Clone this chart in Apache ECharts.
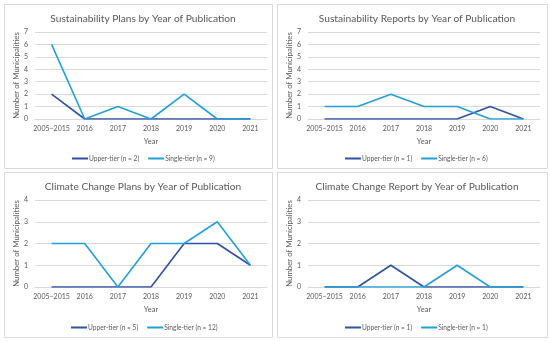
<!DOCTYPE html>
<html><head><meta charset="utf-8">
<script src="https://cdn.jsdelivr.net/npm/echarts@6/dist/echarts.min.js"></script>
<style>html,body{margin:0;padding:0;background:#fff}#c{width:550px;height:341px}</style>
</head><body><div id="c"></div>
<script>
const categories = ['2005–2015','2016','2017','2018','2019','2020','2021'];
const titles = ['Sustainability Plans by Year of Publication','Sustainability Reports by Year of Publication','Climate Change Plans by Year of Publication','Climate Change Report by Year of Publication'];
const upperNames = ['Upper-tier (n = 2)','Upper-tier (n = 1)','Upper-tier (n = 5)','Upper-tier (n = 1)'];
const singleNames = ['Single-tier (n = 9)','Single-tier (n = 6)','Single-tier (n = 12)','Single-tier (n = 1)'];
const p1Upper = [2,0,0,0,0,0,0];
const p1Single = [6,0,1,0,2,0,0];
const p2Upper = [0,0,0,0,0,1,0];
const p2Single = [1,1,2,1,1,0,0];
const p3Upper = [0,0,0,0,2,2,1];
const p3Single = [2,2,0,2,2,3,1];
const p4Upper = [0,0,1,0,0,0,0];
const p4Single = [0,0,0,0,1,0,0];
const yMax = [7,7,4,4];
const uppers = [p1Upper,p2Upper,p3Upper,p4Upper];
const singles = [p1Single,p2Single,p3Single,p4Single];

const DARK = '#2f52a4', LIGHT = '#22a0da', TXT = '#595959', GRID = '#d9d9d9';
const FONT = 'Lato';
const panels = [
  {bx:4,by:4,bw:268,bh:164, gl:35, gt:32, lg:72},
  {bx:277,by:4,bw:270,bh:164, gl:308, gt:32, lg:345},
  {bx:4,by:172,bw:268,bh:165, gl:35, gt:200, lg:71},
  {bx:277,by:172,bw:270,bh:165, gl:308, gt:200, lg:345}
];
const gw = 232, gh = 87;
const chart = echarts.init(document.getElementById('c'), null, {renderer:'canvas'});
const option = {
  animation:false,
  textStyle:{fontFamily:FONT},
  graphic: panels.map(p=>({type:'rect',shape:{x:p.bx+0.5,y:p.by+0.5,width:p.bw,height:p.bh},style:{fill:'none',stroke:GRID,lineWidth:1},silent:true})),
  title: panels.map((p,i)=>({text:titles[i],left:p.bx+p.bw/2,textAlign:'center',top:p.by+5,textStyle:{fontFamily:FONT,fontSize:10.2,fontWeight:'normal',color:TXT}})),
  grid: panels.map(p=>({left:p.gl,top:p.gt,width:gw,height:gh,containLabel:false})),
  xAxis: panels.map((p,i)=>({gridIndex:i,type:'category',data:categories,boundaryGap:true,
    axisLine:{show:true,lineStyle:{color:GRID}},axisTick:{show:false},
    axisLabel:{color:TXT,fontSize:7,margin:6,interval:0,fontFamily:FONT},
    name:'Year',nameLocation:'middle',nameGap:19,nameTextStyle:{color:TXT,fontSize:7.5,fontFamily:FONT}})),
  yAxis: panels.map((p,i)=>({gridIndex:i,type:'value',min:0,max:yMax[i],interval:1,
    axisLine:{show:false},axisTick:{show:false},
    splitLine:{lineStyle:{color:GRID,width:1}},
    axisLabel:{color:TXT,fontSize:7,margin:7,fontFamily:FONT},
    name:'Number of Municipalities',nameLocation:'middle',nameGap:12,nameRotate:90,
    nameTextStyle:{color:TXT,fontSize:7.8,fontFamily:FONT}})),
  legend: panels.map((p,i)=>({data:[upperNames[i],singleNames[i]],left:p.lg,top:p.by+p.bh-13,padding:0,
    itemWidth:16,itemHeight:2,itemGap:9,icon:'rect',
    textStyle:{color:TXT,fontSize:6.6,fontFamily:FONT,padding:[0,0,0,-4]}})),
  series: []
};
panels.forEach((p,i)=>{
  option.series.push({type:'line',name:upperNames[i],xAxisIndex:i,yAxisIndex:i,data:uppers[i],
    symbol:'none',lineStyle:{color:DARK,width:1.6},itemStyle:{color:DARK}});
  option.series.push({type:'line',name:singleNames[i],xAxisIndex:i,yAxisIndex:i,data:singles[i],
    symbol:'none',lineStyle:{color:LIGHT,width:1.6},itemStyle:{color:LIGHT}});
});
chart.setOption(option);
</script></body></html>
